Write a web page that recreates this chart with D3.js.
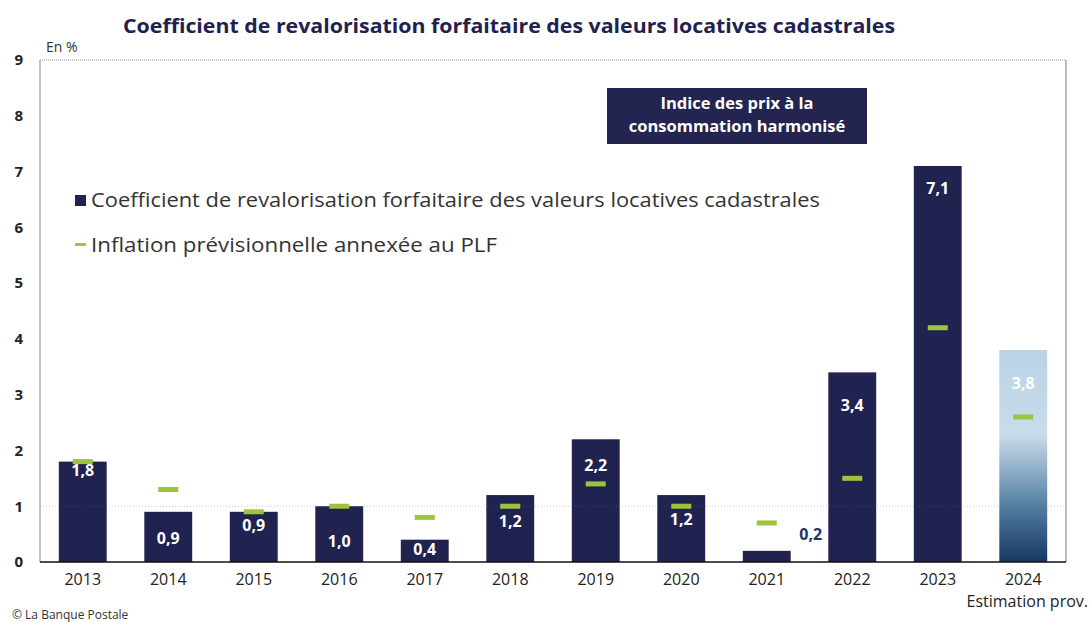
<!DOCTYPE html>
<html>
<head>
<meta charset="utf-8">
<script src="https://cdn.jsdelivr.net/npm/d3@7"></script>
<style>
  body { margin: 0; background: #fff; }
  text { font-family: "Open Sans", "Noto Sans", sans-serif; }
</style>
</head>
<body>
<script>
const years = ["2013","2014","2015","2016","2017","2018","2019","2020","2021","2022","2023","2024"];
const coefValues = [1.8, 0.9, 0.9, 1.0, 0.4, 1.2, 2.2, 1.2, 0.2, 3.4, 7.1, 3.8];
const inflationValues = [1.8, 1.3, 0.9, 1.0, 0.8, 1.0, 1.4, 1.0, 0.7, 1.5, 4.2, 2.6];
// where each value label sits, in % units
const labelAt = [1.55, 0.33, 0.55, 0.27, 0.12, 0.63, 1.63, 0.67, 0.4, 2.7, 6.6, 3.1];
const yTicks = [0, 1, 2, 3, 4, 5, 6, 7, 8, 9];

const main = () => {
  const W = 1091, H = 622;
  const left = 40, right = 1066, top = 60, bottom = 562;
  const navy = "#20224f", green = "#9cc43c";

  const svg = d3.select("body").append("svg")
    .attr("width", W).attr("height", H);

  const defs = svg.append("defs");
  const grad = defs.append("linearGradient")
    .attr("id", "est").attr("x1", 0).attr("y1", 0).attr("x2", 0).attr("y2", 1);
  grad.append("stop").attr("offset", "0%").attr("stop-color", "#b9d3e6");
  grad.append("stop").attr("offset", "40%").attr("stop-color", "#c9dcea");
  grad.append("stop").attr("offset", "75%").attr("stop-color", "#4f7a9f");
  grad.append("stop").attr("offset", "100%").attr("stop-color", "#17375f");

  const x = d3.scaleBand().domain(years).range([left, right])
    .paddingInner(0.44).paddingOuter(0.22);
  const y = d3.scaleLinear().domain([0, 9]).range([bottom, top]);

  // title
  svg.append("text")
    .attr("x", 509).attr("y", 33)
    .attr("text-anchor", "middle")
    .attr("font-size", 19.5).attr("font-weight", 700)
    .attr("fill", "#1f2150")
    .attr("textLength", 772).attr("lengthAdjust", "spacingAndGlyphs")
    .text("Coefficient de revalorisation forfaitaire des valeurs locatives cadastrales");

  svg.append("text")
    .attr("x", 46).attr("y", 52)
    .attr("font-size", 14).attr("fill", "#333")
    .text("En %");

  // frame
  svg.append("line")
    .attr("x1", left).attr("x2", right).attr("y1", y(9)).attr("y2", y(9))
    .attr("stroke", "#999").attr("stroke-dasharray", "1,1");
  svg.append("line")
    .attr("x1", left).attr("x2", left).attr("y1", y(9)).attr("y2", bottom)
    .attr("stroke", "#888");
  svg.append("line")
    .attr("x1", right).attr("x2", right).attr("y1", y(9)).attr("y2", bottom)
    .attr("stroke", "#777");

  // y axis labels
  const yAxis = svg.append("g")
    .attr("transform", `translate(${left - 14},0)`)
    .call(d3.axisLeft(y).tickValues(yTicks).tickSize(0).tickFormat(d3.format("d")));
  yAxis.select(".domain").remove();
  yAxis.selectAll("text")
    .attr("font-size", 15).attr("font-weight", 700).attr("fill", "#222")
    .attr("font-family", "'Open Sans', sans-serif");

  // bars
  svg.selectAll("rect.bar")
    .data(years)
    .enter().append("rect")
    .attr("class", "bar")
    .attr("x", d => x(d))
    .attr("width", x.bandwidth())
    .attr("y", (d, i) => y(coefValues[i]))
    .attr("height", (d, i) => y(0) - y(coefValues[i]))
    .attr("fill", (d, i) => i === years.length - 1 ? "url(#est)" : navy);

  // faint grid line at 1 through the bars
  svg.append("line")
    .attr("x1", left).attr("x2", right).attr("y1", y(1)).attr("y2", y(1))
    .attr("stroke", "#6a6a80").attr("stroke-opacity", 0.35)
    .attr("stroke-dasharray", "1,2");

  // value labels
  svg.selectAll("text.val")
    .data(years)
    .enter().append("text")
    .attr("class", "val")
    .attr("x", (d, i) => x(d) + x.bandwidth() / 2 + (coefValues[i] < 0.3 ? 44 : 0))
    .attr("y", (d, i) => y(labelAt[i]))
    .attr("text-anchor", "middle")
    .attr("font-size", 16).attr("font-weight", 700)
    .attr("fill", (d, i) => coefValues[i] < 0.3 ? "#1d3563" : "#fff")
    .text((d, i) => d3.format(".1f")(coefValues[i]).replace(".", ","));

  // inflation markers
  svg.selectAll("rect.infl")
    .data(years)
    .enter().append("rect")
    .attr("class", "infl")
    .attr("x", d => x(d) + x.bandwidth() / 2 - 10)
    .attr("y", (d, i) => y(inflationValues[i]) - 2.5)
    .attr("width", 20).attr("height", 5)
    .attr("fill", green);

  // x axis
  svg.append("line")
    .attr("x1", left).attr("x2", right).attr("y1", bottom).attr("y2", bottom)
    .attr("stroke", "#111").attr("stroke-width", 1.5);
  const xAxis = svg.append("g")
    .attr("transform", `translate(0,${bottom})`)
    .call(d3.axisBottom(x).tickSize(0).tickPadding(12));
  xAxis.select(".domain").remove();
  xAxis.selectAll("text")
    .attr("font-size", 16).attr("fill", "#222")
    .attr("font-family", "'Open Sans', sans-serif");

  svg.append("text")
    .attr("x", 1088).attr("y", 607)
    .attr("text-anchor", "end")
    .attr("font-size", 16).attr("fill", "#222")
    .text("Estimation prov.");

  svg.append("text")
    .attr("x", 12).attr("y", 619)
    .attr("font-size", 12).attr("fill", "#333")
    .text("© La Banque Postale");

  // legend
  const legend = svg.append("g");
  legend.append("rect")
    .attr("x", 75).attr("y", 195).attr("width", 11).attr("height", 11)
    .attr("fill", navy);
  legend.append("text")
    .attr("x", 91).attr("y", 207)
    .attr("font-size", 20.5).attr("fill", "#333")
    .attr("textLength", 729).attr("lengthAdjust", "spacingAndGlyphs")
    .text("Coefficient de revalorisation forfaitaire des valeurs locatives cadastrales");
  legend.append("rect")
    .attr("x", 75).attr("y", 243).attr("width", 11).attr("height", 3)
    .attr("fill", green);
  legend.append("text")
    .attr("x", 91).attr("y", 252)
    .attr("font-size", 20.5).attr("fill", "#333")
    .attr("textLength", 406).attr("lengthAdjust", "spacingAndGlyphs")
    .text("Inflation prévisionnelle annexée au PLF");

  // annotation box
  const note = svg.append("g");
  note.append("rect")
    .attr("x", 607).attr("y", 88).attr("width", 260).attr("height", 56)
    .attr("fill", "#23244f");
  note.selectAll("text")
    .data(["Indice des prix à la", "consommation harmonisé"])
    .enter().append("text")
    .attr("x", 737).attr("y", (d, i) => 109 + i * 23)
    .attr("text-anchor", "middle")
    .attr("font-size", 16.5).attr("font-weight", 700).attr("fill", "#fff")
    .text(d => d);
};

window.onload = main;
</script>
</body>
</html>
